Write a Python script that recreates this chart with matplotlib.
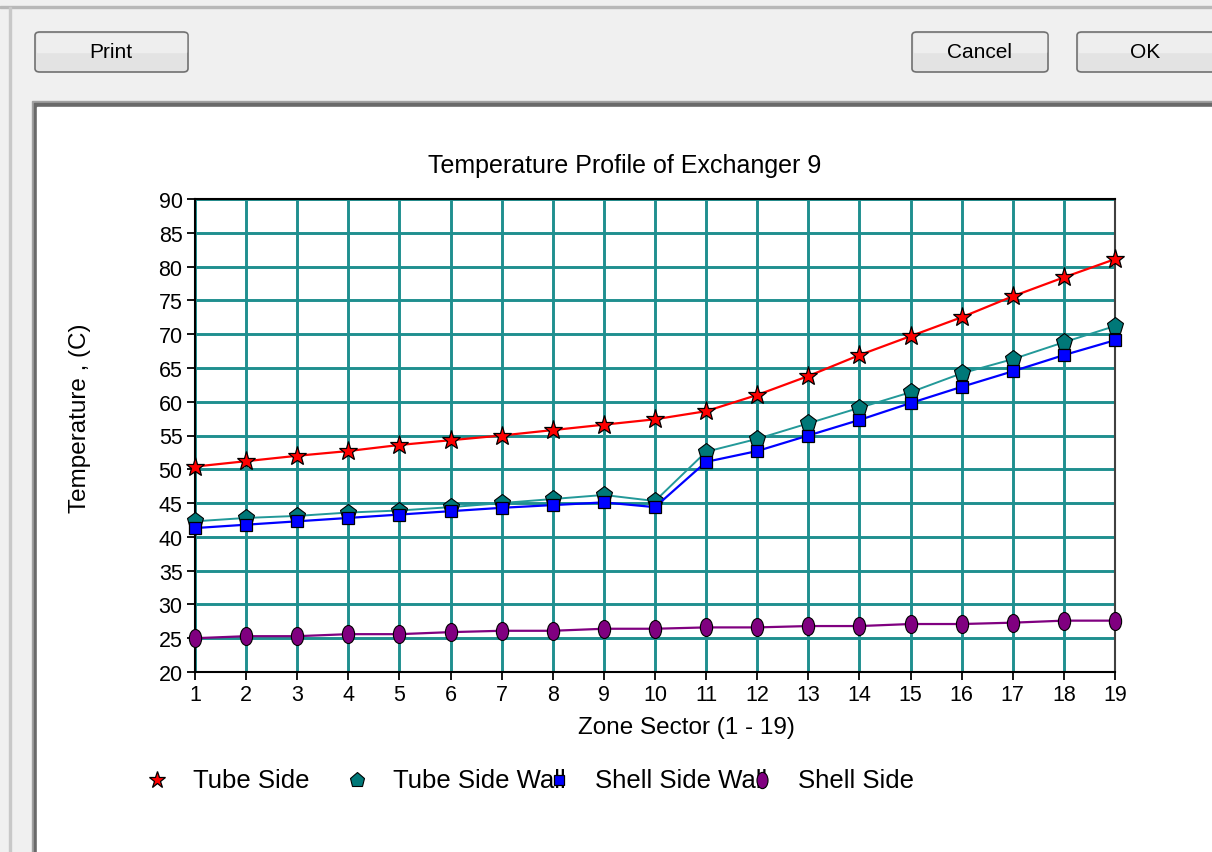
import numpy as np
import matplotlib
matplotlib.use('Agg')
import matplotlib.pyplot as plt
from matplotlib.lines import Line2D
from matplotlib.patches import Rectangle, FancyBboxPatch
from matplotlib.path import Path
from matplotlib.transforms import Affine2D

plt.rcParams['font.family'] = ['Liberation Sans', 'DejaVu Sans']

# Data
sectors = list(range(1, 20))
tube_side = [50.4, 51.2, 52.0, 52.7, 53.6, 54.3, 55.0, 55.8, 56.6, 57.4,
             58.6, 61.0, 63.8, 66.9, 69.7, 72.5, 75.6, 78.4, 81.1]
tube_side_wall = [42.3, 42.8, 43.1, 43.6, 43.9, 44.4, 45.0, 45.6, 46.2, 45.3,
                  52.6, 54.5, 56.8, 59.1, 61.4, 64.2, 66.3, 68.8, 71.2]
shell_side_wall = [41.3, 41.8, 42.3, 42.8, 43.3, 43.8, 44.3, 44.7, 45.1, 44.4,
                   51.1, 52.7, 55.0, 57.3, 59.8, 62.2, 64.5, 66.9, 69.1]
shell_side = [25.0, 25.3, 25.3, 25.6, 25.6, 25.9, 26.1, 26.1, 26.4, 26.4,
              26.6, 26.6, 26.8, 26.8, 27.1, 27.1, 27.3, 27.6, 27.6]
series_names = ['Tube Side', 'Tube Side Wall', 'Shell Side Wall', 'Shell Side']

W, H = 1212, 853


def fx(x):
    return x / W


def fy(y):
    return 1 - y / H


# tall ellipse marker for the shell side
ellipse = Path.unit_circle().transformed(Affine2D().scale(0.68, 1.0))

styles = [
    dict(color='#ff0000', marker='*', ms=14, mfc='#ff0000', mec='black', mew=0.9, lw=1.6),
    dict(color='#239999', marker='p', ms=12.5, mfc='#007878', mec='black', mew=0.8, lw=1.4),
    dict(color='#0000ff', marker='s', ms=8, mfc='#0000ff', mec='black', mew=0.9, lw=1.6),
    dict(color='#800080', marker=ellipse, ms=13, mfc='#800080', mec='black', mew=0.8, lw=1.6),
]

fig = plt.figure(figsize=(W / 100, H / 100), dpi=100, facecolor='#f0f0f0')


def add_rect(x0, y0, x1, y1, color):
    # pixel box (top-left origin) -> figure rectangle behind everything
    fig.patches.append(Rectangle((fx(x0), fy(y1)), fx(x1 - x0), fy(y0) - fy(y1),
                                 transform=fig.transFigure, color=color, zorder=-10))


# Dialog chrome
add_rect(0, 7, W, 9, '#b8b8b8')
add_rect(9, 8, 11, H, '#c8c8c8')
add_rect(32, 102, W, H, '#a0a0a0')
add_rect(34, 104, W, H, '#696969')
add_rect(37, 108, W, H, 'white')

buttons = [('Print', 35, 188, 111), ('Cancel', 912, 1048, 980), ('OK', 1077, 1240, 1145)]
for label, x0, x1, xc in buttons:
    fig.patches.append(FancyBboxPatch((fx(x0), fy(73)), fx(x1 - x0), fy(33) - fy(73),
                                      boxstyle='round,pad=0,rounding_size=0.004',
                                      transform=fig.transFigure, fc='#e3e3e3',
                                      ec='#707070', lw=1.2, zorder=-9))
    fig.patches.append(Rectangle((fx(x0 + 2), fy(53)), fx(x1 - x0 - 4), fy(35) - fy(53),
                                 transform=fig.transFigure, color='#eeeeee', zorder=-8))
    fig.text(fx(xc), fy(53), label, ha='center', va='center', fontsize=15)

# Chart axes
ax = fig.add_axes([fx(195), fy(673), fx(1115 - 195), fy(200) - fy(673)])
ax.set_facecolor('white')

for vals, st in zip([tube_side, tube_side_wall, shell_side_wall, shell_side], styles):
    ax.plot(sectors, vals, clip_on=False, zorder=3, **st)

ax.set_xlim(1, 19)
ax.set_ylim(20, 90)
ax.set_xticks(sectors)
ax.set_yticks(np.arange(20, 91, 5))
ax.grid(True, color='#1f8f8f', lw=2.1)
ax.set_axisbelow(True)
ax.tick_params(direction='out', length=6, width=1.3, labelsize=15.5, color='black', pad=3)
for side in ['left', 'bottom', 'top']:
    ax.spines[side].set_color('black')
    ax.spines[side].set_linewidth(1.5)
ax.spines['right'].set_color('#404040')
ax.spines['right'].set_linewidth(1.5)

fig.text(fx(625), fy(166), 'Temperature Profile of Exchanger 9',
         ha='center', va='center', fontsize=18)
fig.text(fx(686), fy(728), 'Zone Sector (1 - 19)', ha='center', va='center', fontsize=17.5)
fig.text(fx(80), fy(418), 'Temperature , (C)', ha='center', va='center',
         rotation=90, fontsize=17.5)

# Legend laid out like the original: fixed slots, text may run under next key
marker_x = [157, 357, 559, 762]
for name, st, mx in zip(series_names, styles, marker_x):
    fig.text(fx(mx + 36), fy(781), name, ha='left', va='center', fontsize=18.5, zorder=4)
    fig.add_artist(Line2D([fx(mx)], [fy(781)], transform=fig.transFigure,
                          linestyle='none', marker=st['marker'], ms=st['ms'] * 0.9,
                          mfc=st['mfc'], mec=st['mec'], mew=st['mew'], zorder=5))

fig.savefig('out.png', dpi=100, facecolor=fig.get_facecolor())
